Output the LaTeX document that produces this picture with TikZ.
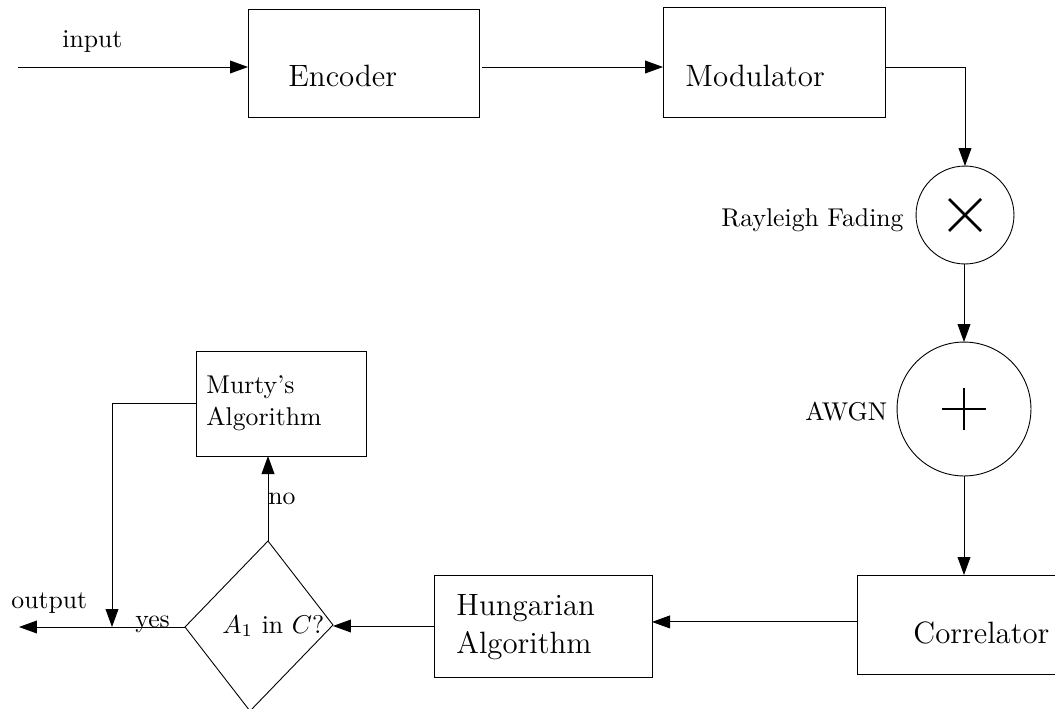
\documentclass[tikz,border=0pt]{standalone}
\usetikzlibrary{arrows.meta,fit}
\begin{document}
\begin{tikzpicture}[x=0.389pt,y=-0.389pt,
  line width=0.35pt,
  box/.style={draw, inner sep=0pt, outer sep=0pt},
  arr/.style={-{Triangle[length=7pt,width=5pt]}},
  lbl/.style={inner sep=0pt, anchor=base west},
  lble/.style={inner sep=0pt, anchor=base east},
  big/.style={font=\large},
  sym/.style={line width=1pt}]
\useasboundingbox (0,0) rectangle (1055,708);
\clip (0,0) rectangle (1055,708);

% blocks
\node[box, fit={(248,9) (479,117)}] (enc) {};
\node[box, fit={(663,7) (885,117)}] (mod) {};
\node[box, circle, minimum size=38.1pt] (mul) at (965,215) {};
\node[box, circle, minimum size=52.1pt] (awgn) at (964,409) {};
\node[box, fit={(857,575) (1070,674)}] (cor) {};
\node[box, fit={(434,575) (652,677)}] (hun) {};
\node[box, fit={(196,351) (366,456)}] (mur) {};

% decision diamond
\coordinate (dN) at (268,541);
\coordinate (dE) at (333,625);
\coordinate (dS) at (250,711);
\coordinate (dW) at (185,627);
\draw (dN) -- (dE) -- (dS) -- (dW) -- cycle;

% symbols in the circles
\draw[sym] ([shift={(-16,-16)}]mul.center) -- ([shift={(16,16)}]mul.center)
           ([shift={(-16,16)}]mul.center) -- ([shift={(16,-16)}]mul.center);
\draw[sym] ([shift={(-22,0)}]awgn.center) -- ([shift={(22,0)}]awgn.center)
           ([shift={(0,-21)}]awgn.center) -- ([shift={(0,21)}]awgn.center);

% texts
\node[lbl,big] (tenc) at (288,86) {Encoder};
\node[lbl,big] (tmod) at (685,86) {Modulator};
\node[lble] (tray) at (904,226) {Rayleigh Fading};
\node[lbl] (tawgn) at (805,420) {AWGN};
\node[lbl,big] (tcor) at (913,643) {Correlator};
\node[lbl,big] (thun1) at (456,615) {Hungarian};
\node[lbl,big] (thun2) at (456,653) {Algorithm};
\node[lbl] (tmur1) at (206,393) {Murty's};
\node[lbl] (tmur2) at (206,425) {Algorithm};
\node[lbl] (tdia) at (222,633) {$A_1$ in $C$?};
\node[lbl] (tin) at (62,47) {input};
\node[lbl] (tout) at (11,608) {output};
\node[lbl] (tyes) at (135,627) {yes};
\node[lbl] (tno) at (268,504) {no};

% connectors
\coordinate (in) at (18,67);
\draw[arr] (in) -- (in -| enc.west);
\draw[arr] ([xshift=1.2pt]in -| enc.east) -- (in -| mod.west);
\draw[arr] (in -| mod.east) -| (mul.north);
\draw[arr] (mul.south -| awgn.north) -- (awgn.north);
\draw[arr] (awgn.south) -- (awgn.south |- cor.north);
\draw[arr] ([yshift=1pt]cor.west) -- ([yshift=1pt]cor.west -| hun.east);
\draw[arr] (hun.west) -- (hun.west -| dE);
\draw[arr] (dN) -- (dN |- mur.south);
\coordinate (j) at (112,627);
\draw[arr] (mur.west) -| (j);
\coordinate (out) at (19,627);
\draw[arr] (dW) -- (out);
\end{tikzpicture}
\end{document}
